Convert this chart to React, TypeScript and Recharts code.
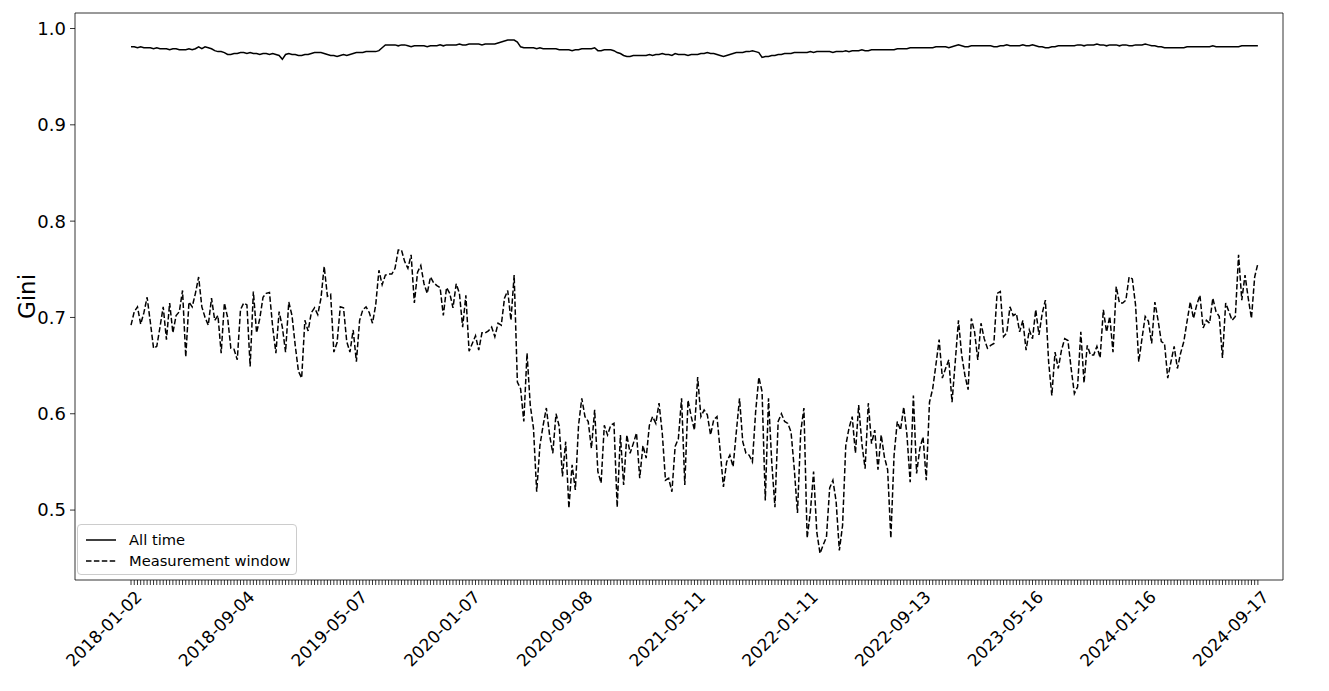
import React from "react";
import { LineChart, Line, XAxis, YAxis, Legend, ReferenceLine } from "recharts";

const FONT = "DejaVu Sans";

// weekly observations, first one on 2018-01-02; a date label every 35 weeks
const TICK_LABELS = [
  "2018-01-02", "2018-09-04", "2019-05-07", "2020-01-07", "2020-09-08", "2021-05-11",
  "2022-01-11", "2022-09-13", "2023-05-16", "2024-01-16", "2024-09-17",
];
const TICK_EVERY = 35;
const Y_TICKS = [0.5, 0.6, 0.7, 0.8, 0.9, 1.0];

const ALL_TIME = [
  0.981, 0.981, 0.980, 0.981, 0.980, 0.980, 0.980, 0.979, 0.980, 0.979,
  0.979, 0.979, 0.978, 0.979, 0.979, 0.978, 0.978, 0.978, 0.979, 0.978,
  0.979, 0.981, 0.979, 0.981, 0.980, 0.979, 0.977, 0.976, 0.976, 0.975,
  0.973, 0.973, 0.974, 0.974, 0.975, 0.975, 0.974, 0.975, 0.974, 0.974,
  0.973, 0.974, 0.974, 0.973, 0.974, 0.973, 0.972, 0.968, 0.973, 0.974,
  0.973, 0.973, 0.972, 0.972, 0.973, 0.973, 0.974, 0.975, 0.975, 0.975,
  0.974, 0.973, 0.972, 0.972, 0.971, 0.972, 0.973, 0.972, 0.973, 0.974,
  0.975, 0.975, 0.975, 0.976, 0.976, 0.976, 0.976, 0.977, 0.980, 0.983,
  0.983, 0.983, 0.983, 0.982, 0.983, 0.983, 0.982, 0.981, 0.982, 0.982,
  0.982, 0.982, 0.981, 0.982, 0.982, 0.982, 0.983, 0.982, 0.983, 0.983,
  0.983, 0.983, 0.984, 0.983, 0.983, 0.984, 0.984, 0.984, 0.984, 0.983,
  0.984, 0.984, 0.984, 0.984, 0.985, 0.986, 0.987, 0.988, 0.988, 0.988,
  0.986, 0.981, 0.980, 0.980, 0.980, 0.980, 0.979, 0.980, 0.979, 0.979,
  0.979, 0.979, 0.979, 0.978, 0.978, 0.978, 0.978, 0.977, 0.978, 0.978,
  0.979, 0.979, 0.979, 0.979, 0.980, 0.977, 0.977, 0.978, 0.978, 0.978,
  0.977, 0.975, 0.974, 0.972, 0.971, 0.971, 0.972, 0.972, 0.972, 0.972,
  0.972, 0.973, 0.972, 0.973, 0.973, 0.974, 0.973, 0.973, 0.972, 0.974,
  0.973, 0.973, 0.973, 0.972, 0.973, 0.973, 0.973, 0.974, 0.974, 0.975,
  0.974, 0.974, 0.973, 0.972, 0.971, 0.972, 0.973, 0.974, 0.975, 0.975,
  0.975, 0.976, 0.976, 0.977, 0.976, 0.975, 0.970, 0.971, 0.971, 0.972,
  0.972, 0.973, 0.973, 0.974, 0.974, 0.974, 0.975, 0.975, 0.975, 0.975,
  0.975, 0.976, 0.975, 0.976, 0.976, 0.976, 0.976, 0.976, 0.975, 0.976,
  0.976, 0.976, 0.977, 0.976, 0.977, 0.977, 0.977, 0.978, 0.977, 0.977,
  0.978, 0.978, 0.978, 0.978, 0.978, 0.978, 0.978, 0.978, 0.979, 0.979,
  0.979, 0.979, 0.980, 0.980, 0.980, 0.980, 0.980, 0.980, 0.980, 0.980,
  0.981, 0.981, 0.981, 0.981, 0.980, 0.981, 0.982, 0.983, 0.982, 0.981,
  0.981, 0.982, 0.982, 0.982, 0.982, 0.982, 0.982, 0.982, 0.981, 0.981,
  0.982, 0.982, 0.983, 0.982, 0.982, 0.982, 0.982, 0.983, 0.982, 0.982,
  0.983, 0.982, 0.981, 0.981, 0.980, 0.980, 0.981, 0.981, 0.982, 0.982,
  0.982, 0.982, 0.982, 0.982, 0.983, 0.983, 0.982, 0.983, 0.983, 0.983,
  0.984, 0.983, 0.983, 0.982, 0.983, 0.983, 0.983, 0.982, 0.983, 0.983,
  0.982, 0.982, 0.983, 0.983, 0.983, 0.984, 0.983, 0.982, 0.982, 0.981,
  0.981, 0.980, 0.980, 0.980, 0.980, 0.980, 0.980, 0.980, 0.981, 0.981,
  0.981, 0.981, 0.981, 0.981, 0.981, 0.981, 0.982, 0.981, 0.981, 0.981,
  0.981, 0.981, 0.981, 0.981, 0.981, 0.982, 0.982, 0.982, 0.982, 0.982,
  0.982,
];

const WINDOW = [
  0.692, 0.706, 0.711, 0.693, 0.705, 0.721, 0.695, 0.668, 0.670, 0.690,
  0.711, 0.677, 0.715, 0.684, 0.702, 0.706, 0.728, 0.659, 0.716, 0.711,
  0.725, 0.742, 0.711, 0.700, 0.692, 0.720, 0.697, 0.702, 0.663, 0.715,
  0.700, 0.668, 0.667, 0.656, 0.708, 0.715, 0.713, 0.649, 0.727, 0.684,
  0.699, 0.721, 0.725, 0.726, 0.690, 0.663, 0.706, 0.690, 0.664, 0.716,
  0.702, 0.671, 0.644, 0.637, 0.697, 0.686, 0.705, 0.710, 0.703, 0.720,
  0.753, 0.722, 0.724, 0.664, 0.674, 0.711, 0.710, 0.675, 0.664, 0.687,
  0.654, 0.697, 0.708, 0.711, 0.705, 0.694, 0.713, 0.749, 0.734, 0.744,
  0.745, 0.745, 0.751, 0.770, 0.770, 0.758, 0.751, 0.765, 0.715, 0.747,
  0.754, 0.735, 0.725, 0.742, 0.736, 0.733, 0.731, 0.702, 0.731, 0.725,
  0.710, 0.735, 0.725, 0.690, 0.723, 0.665, 0.673, 0.681, 0.666, 0.684,
  0.684, 0.686, 0.690, 0.680, 0.694, 0.692, 0.720, 0.728, 0.697, 0.744,
  0.633, 0.626, 0.592, 0.663, 0.609, 0.585, 0.519, 0.567, 0.588, 0.606,
  0.578, 0.559, 0.600, 0.587, 0.535, 0.571, 0.502, 0.547, 0.521, 0.588,
  0.616, 0.597, 0.592, 0.564, 0.604, 0.540, 0.528, 0.588, 0.578, 0.588,
  0.590, 0.503, 0.578, 0.526, 0.578, 0.559, 0.569, 0.580, 0.533, 0.567,
  0.554, 0.588, 0.597, 0.590, 0.611, 0.580, 0.531, 0.533, 0.519, 0.566,
  0.574, 0.616, 0.526, 0.614, 0.597, 0.583, 0.638, 0.597, 0.604, 0.599,
  0.578, 0.594, 0.597, 0.561, 0.524, 0.550, 0.557, 0.545, 0.581, 0.616,
  0.571, 0.559, 0.557, 0.550, 0.602, 0.638, 0.623, 0.510, 0.616, 0.550,
  0.503, 0.592, 0.600, 0.592, 0.590, 0.581, 0.543, 0.497, 0.581, 0.606,
  0.471, 0.498, 0.540, 0.477, 0.455, 0.464, 0.472, 0.523, 0.531, 0.509,
  0.458, 0.484, 0.567, 0.585, 0.597, 0.559, 0.609, 0.569, 0.543, 0.611,
  0.569, 0.583, 0.542, 0.578, 0.555, 0.542, 0.471, 0.557, 0.592, 0.583,
  0.607, 0.578, 0.529, 0.619, 0.538, 0.564, 0.576, 0.531, 0.612, 0.626,
  0.651, 0.677, 0.637, 0.647, 0.656, 0.612, 0.654, 0.697, 0.661, 0.640,
  0.625, 0.699, 0.685, 0.656, 0.694, 0.678, 0.668, 0.671, 0.673, 0.725,
  0.727, 0.680, 0.684, 0.711, 0.702, 0.704, 0.685, 0.697, 0.666, 0.687,
  0.678, 0.708, 0.682, 0.704, 0.718, 0.654, 0.619, 0.664, 0.647, 0.666,
  0.678, 0.676, 0.647, 0.621, 0.628, 0.685, 0.632, 0.671, 0.661, 0.661,
  0.670, 0.658, 0.708, 0.685, 0.701, 0.664, 0.732, 0.715, 0.715, 0.718,
  0.742, 0.740, 0.713, 0.654, 0.678, 0.701, 0.696, 0.673, 0.716, 0.697,
  0.675, 0.673, 0.637, 0.654, 0.670, 0.647, 0.663, 0.675, 0.696, 0.716,
  0.699, 0.713, 0.723, 0.689, 0.697, 0.694, 0.720, 0.706, 0.701, 0.658,
  0.715, 0.706, 0.697, 0.701, 0.765, 0.718, 0.744, 0.720, 0.699, 0.742,
  0.756,
];

const SERIES = [
  { key: "allTime", name: "All time", dash: undefined as string | undefined },
  { key: "window", name: "Measurement window", dash: "5.5 2.4" },
];

const data = ALL_TIME.map((v, i) => ({ week: i, allTime: v, window: WINDOW[i] }));
const weekTicks = data.map((d) => d.week);

// x range in weeks, a bit of slack either side like matplotlib's margins
const X_DOMAIN = [-17.4, 357.8];
const Y_DOMAIN = [0.4274, 1.0161];

function DateTick({ x, y, payload }: any) {
  const w = payload.value;
  if (w % TICK_EVERY !== 0) return <g />;
  const label = TICK_LABELS[w / TICK_EVERY];
  const ax = x + 12;
  const ay = y + 11;
  return (
    <text
      x={ax}
      y={ay}
      textAnchor="end"
      transform={`rotate(-45, ${ax}, ${ay})`}
      fontFamily={FONT}
      fontSize={17}
      fill="#000"
    >
      {label}
    </text>
  );
}

function LegendBox() {
  return (
    <div
      style={{
        width: 220,
        height: 51,
        boxSizing: "border-box",
        border: "1px solid #cccccc",
        borderRadius: 4,
        background: "rgba(255,255,255,0.8)",
        padding: "4px 0 0 8px",
        fontFamily: FONT,
        fontSize: 14.7,
        color: "#000",
      }}
    >
      {SERIES.map((s) => (
        <div key={s.key} style={{ display: "flex", alignItems: "center", height: 21 }}>
          <svg width={30} height={10}>
            <line x1={0} y1={5} x2={30} y2={5} stroke="#000" strokeWidth={1.5} strokeDasharray={s.dash} />
          </svg>
          <span style={{ marginLeft: 13 }}>{s.name}</span>
        </div>
      ))}
    </div>
  );
}

export default function App() {
  const axisStroke = { stroke: "#000", strokeWidth: 0.8 };
  return (
    <div style={{ position: "absolute", left: 0, top: 0, background: "#fff" }}>
      <LineChart width={1329} height={691} data={data} margin={{ top: 13, right: 46, left: 0, bottom: 0 }}>
        <XAxis
          dataKey="week"
          type="number"
          domain={X_DOMAIN}
          ticks={weekTicks}
          interval={0}
          height={111}
          tickSize={5}
          axisLine={axisStroke}
          tickLine={axisStroke}
          tick={<DateTick />}
          allowDataOverflow
        />
        <YAxis
          type="number"
          domain={Y_DOMAIN}
          ticks={Y_TICKS}
          width={75}
          tickSize={5}
          tickMargin={4}
          axisLine={axisStroke}
          tickLine={axisStroke}
          tickFormatter={(v: number) => v.toFixed(1)}
          tick={{ fill: "#000", fontSize: 18, fontFamily: FONT }}
          allowDataOverflow
          label={{
            value: "Gini",
            angle: -90,
            position: "center",
            dx: -11,
            style: { fill: "#000", fontSize: 23, fontFamily: FONT },
          }}
        />
        {/* top and right spines of the axes box */}
        <ReferenceLine y={Y_DOMAIN[1]} stroke="#000" strokeWidth={0.8} ifOverflow="visible" />
        <ReferenceLine x={X_DOMAIN[1]} stroke="#000" strokeWidth={0.8} ifOverflow="visible" />
        <Legend
          layout="vertical"
          verticalAlign="middle"
          align="center"
          wrapperStyle={{ left: 77, top: 524, width: 220 }}
          content={() => <LegendBox />}
        />
        {SERIES.map((s) => (
          <Line
            key={s.key}
            dataKey={s.key}
            name={s.name}
            type="linear"
            stroke="#000"
            strokeWidth={1.5}
            strokeDasharray={s.dash}
            dot={false}
            activeDot={false}
            isAnimationActive={false}
          />
        ))}
      </LineChart>
    </div>
  );
}
